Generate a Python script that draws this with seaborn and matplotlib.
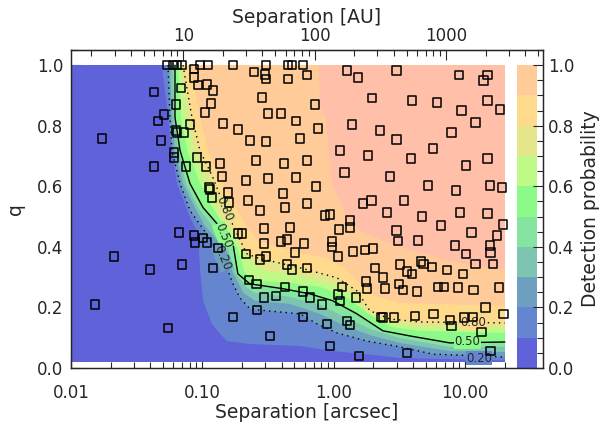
import numpy as np
import matplotlib
matplotlib.use("Agg")
import matplotlib.pyplot as plt
import seaborn as sns
from matplotlib.ticker import FixedLocator, FormatStrFormatter, MultipleLocator, LogLocator, NullFormatter

sns.set_style("ticks")
plt.rcParams['font.family'] = ['DejaVu Sans']

DIST_PC = 140  # arcsec -> AU

# band colours, 0.0-0.1 ... 0.9-1.0, and the full-detection zone
band_colors = ["#5f62d8", "#6585d0", "#6da0c0", "#7dc5b0", "#85e5a0",
               "#8cfa88", "#bffa88", "#e5e58c", "#ffd98c", "#ffcc99"]
full_color = "#ffbfa8"
levels = [0.0, 0.1, 0.2, 0.3, 0.4, 0.5, 0.6, 0.7, 0.8, 0.9, 1.0]

# detection-probability contours: separation [arcsec] vs q
sep_10 = [0.0492, 0.0547, 0.0586, 0.064, 0.0804, 0.0925, 0.0957, 0.101, 0.118, 0.136, 0.1535, 0.23, 0.551, 0.982, 2.36, 3.18, 20.0]
q_10 = [1.0, 0.828, 0.719, 0.609, 0.497, 0.444, 0.331, 0.222, 0.146, 0.113, 0.089, 0.079, 0.073, 0.056, 0.040, 0.033, 0.025]

sep_20 = [0.0547, 0.0566, 0.0586, 0.0675, 0.0804, 0.101, 0.120, 0.1406, 0.1535, 0.1706, 0.1928, 0.2296, 0.309, 0.551, 0.743, 1.054, 1.783, 3.18, 5.66, 12.9, 20.0]
q_20 = [1.0, 0.828, 0.719, 0.609, 0.520, 0.460, 0.411, 0.364, 0.331, 0.278, 0.232, 0.195, 0.189, 0.179, 0.146, 0.116, 0.089, 0.070, 0.046, 0.040, 0.036]

sep_30 = [0.0566, 0.0586, 0.0618, 0.0711, 0.0877, 0.1045, 0.136, 0.172, 0.206, 0.2506, 0.462, 0.783, 1.21, 1.88, 3.18, 7.62, 20.0]
q_30 = [1.0, 0.828, 0.719, 0.609, 0.530, 0.470, 0.411, 0.311, 0.248, 0.222, 0.212, 0.179, 0.139, 0.109, 0.083, 0.056, 0.053]

sep_40 = [0.0597, 0.0608, 0.0652, 0.075, 0.0925, 0.116, 0.152, 0.180, 0.214, 0.2506, 0.462, 0.783, 1.21, 1.88, 3.18, 7.62, 20.0]
q_40 = [1.0, 0.828, 0.719, 0.609, 0.530, 0.474, 0.411, 0.311, 0.268, 0.248, 0.235, 0.209, 0.169, 0.129, 0.099, 0.070, 0.070]

sep_50 = [0.0618, 0.0618, 0.0675, 0.0804, 0.101, 0.129, 0.1706, 0.186, 0.2296, 0.409, 0.656, 0.982, 1.496, 2.36, 3.79, 7.62, 20.0]
q_50 = [1.0, 0.828, 0.719, 0.609, 0.530, 0.477, 0.411, 0.311, 0.278, 0.262, 0.245, 0.222, 0.179, 0.123, 0.106, 0.083, 0.086]

sep_60 = [0.0652, 0.0687, 0.0766, 0.0940, 0.119, 0.152, 0.186, 0.2096, 0.257, 0.462, 0.783, 1.21, 1.80, 2.71, 4.45, 20.0]
q_60 = [1.0, 0.828, 0.719, 0.619, 0.530, 0.460, 0.394, 0.315, 0.288, 0.281, 0.268, 0.238, 0.182, 0.136, 0.123, 0.116]

sep_70 = [0.0687, 0.0766, 0.0860, 0.1064, 0.133, 0.166, 0.203, 0.2436, 0.298, 0.505, 0.933, 1.324, 1.80, 2.60, 4.37, 20.0]
q_70 = [1.0, 0.828, 0.719, 0.619, 0.530, 0.454, 0.387, 0.344, 0.321, 0.308, 0.281, 0.248, 0.182, 0.149, 0.136, 0.132]

sep_80 = [0.0711, 0.0832, 0.0957, 0.120, 0.148, 0.1828, 0.218, 0.2735, 0.326, 0.551, 1.054, 1.496, 1.88, 2.67, 4.51, 20.0]
q_80 = [1.0, 0.828, 0.719, 0.629, 0.530, 0.444, 0.377, 0.361, 0.354, 0.331, 0.298, 0.255, 0.189, 0.162, 0.152, 0.149]

sep_90 = [0.0804, 0.0957, 0.110, 0.1406, 0.1766, 0.222, 0.264, 0.356, 0.551, 0.933, 1.21, 1.578, 2.05, 3.18, 20.0]
q_90 = [1.0, 0.828, 0.719, 0.619, 0.536, 0.460, 0.421, 0.401, 0.381, 0.361, 0.328, 0.281, 0.238, 0.215, 0.205]

sep_100 = [0.769, 0.783, 0.869, 0.900, 0.933, 0.982, 1.11, 1.256, 1.578, 2.67, 4.51, 7.62, 12.9, 20.0]
q_100 = [1.0, 0.868, 0.825, 0.752, 0.669, 0.603, 0.553, 0.503, 0.454, 0.411, 0.381, 0.354, 0.334, 0.328]

# observed binaries
obs_sep = [0.0172, 0.0428, 0.0428, 0.0459, 0.0484, 0.0509, 0.0537, 0.0597, 0.064, 0.0698,
           0.0629, 0.0607, 0.0607, 0.0629, 0.064, 0.0687, 0.075, 0.0663, 0.0723, 0.0804,
           0.0861, 0.0861, 0.0957, 0.110, 0.1706, 0.0925, 0.108, 0.120, 0.116, 0.1045,
           0.143, 0.186, 0.0908, 0.1064, 0.136, 0.1406, 0.112, 0.114, 0.118, 0.156,
           0.159, 0.186, 0.0861, 0.0877, 0.101, 0.108, 0.131, 0.0399, 0.0698, 0.120,
           0.0547, 0.1706, 0.2594, 0.326, 0.581, 0.933, 1.549, 0.226, 0.259, 0.294,
           0.362, 0.424, 0.581, 0.656, 0.811, 1.072, 1.11, 1.324, 1.256, 0.885,
           0.214, 0.2735, 0.304, 0.440, 0.480, 0.624, 1.151, 1.469, 0.1995, 0.294,
           0.294, 0.395, 0.440, 0.505, 0.591, 0.966, 0.966, 1.072, 1.393, 1.72,
           1.98, 2.05, 2.36, 1.75, 1.78, 2.44, 2.28, 2.36, 2.86, 3.35,
           1.66, 1.94, 2.53, 3.01, 3.07, 1.09, 1.324, 1.324, 0.855, 0.933,
           0.462, 0.624, 0.424, 0.2735, 0.222, 10.1, 3.18, 3.59, 3.92, 4.59,
           4.83, 5.56, 7.23, 9.57, 12.0, 16.2, 3.12, 4.28, 6.18, 6.87,
           8.77, 11.6, 18.0, 4.13, 5.75, 7.62, 7.89, 9.75, 11.4, 14.3,
           19.6, 13.3, 15.6, 3.59, 0.0212, 0.0152, 0.304, 0.447, 0.480, 0.581,
           0.2466, 0.2985, 0.304, 0.447, 0.624, 1.256, 1.524, 3.01, 8.93, 14.8,
           13.8, 0.283, 0.315, 0.395, 0.514, 0.718, 0.2296, 0.304, 0.551, 0.756,
           0.2553, 0.417, 0.624, 0.2143, 0.315, 0.514, 0.730, 0.409, 1.946, 3.92,
           6.07, 9.40, 1.371, 2.24, 3.01, 7.89, 12.0, 1.11, 1.816, 3.85,
           5.66, 10.1, 1.21, 2.67, 5.19, 8.47, 3.41, 4.67, 6.51, 9.08,
           11.2, 8.32, 4.36, 14.8, 18.3, 14.8, 15.4, 19.0, 14.8, 19.3,
           17.4, 15.4, 15.6]
obs_q = [0.758, 0.911, 0.666, 0.815, 0.752, 0.838, 1.0, 1.0, 1.0, 1.0,
         0.871, 0.712, 0.695, 0.785, 0.778, 0.924, 0.666, 0.447, 0.778, 0.805,
         0.987, 0.96, 1.0, 1.0, 1.0, 0.934, 0.937, 0.917, 0.874, 0.844,
         0.808, 0.788, 0.695, 0.666, 0.675, 0.632, 0.596, 0.589, 0.563, 0.580,
         0.546, 0.444, 0.437, 0.414, 0.430, 0.414, 0.397, 0.325, 0.341, 0.331,
         0.132, 0.169, 0.192, 0.106, 0.169, 0.073, 0.040, 0.291, 0.278, 0.232,
         0.238, 0.268, 0.252, 0.232, 0.209, 0.242, 0.222, 0.142, 0.156, 0.146,
         0.377, 0.358, 0.368, 0.341, 0.325, 0.331, 0.268, 0.232, 0.444, 0.460,
         0.411, 0.417, 0.424, 0.381, 0.411, 0.417, 0.400, 0.368, 0.384, 0.390,
         0.394, 0.331, 0.298, 0.285, 0.262, 0.262, 0.169, 0.166, 0.166, 0.258,
         0.543, 0.553, 0.513, 0.454, 0.420, 0.457, 0.487, 0.464, 0.503, 0.507,
         0.464, 0.543, 0.530, 0.520, 0.553, 0.377, 0.341, 0.318, 0.311, 0.351,
         0.344, 0.334, 0.324, 0.311, 0.344, 0.344, 0.278, 0.252, 0.268, 0.268,
         0.265, 0.258, 0.265, 0.172, 0.179, 0.159, 0.139, 0.166, 0.169, 0.199,
         0.179, 0.119, 0.056, 0.050, 0.368, 0.209, 1.0, 1.0, 1.0, 1.0,
         0.977, 0.970, 0.954, 0.954, 0.967, 0.983, 0.960, 0.983, 0.967, 0.967,
         0.950, 0.894, 0.841, 0.841, 0.815, 0.871, 0.752, 0.748, 0.758, 0.791,
         0.685, 0.675, 0.685, 0.619, 0.626, 0.629, 0.599, 0.576, 0.891, 0.884,
         0.877, 0.851, 0.805, 0.785, 0.755, 0.778, 0.811, 0.719, 0.702, 0.692,
         0.725, 0.669, 0.646, 0.632, 0.603, 0.586, 0.553, 0.500, 0.470, 0.513,
         0.447, 0.404, 0.421, 0.884, 0.854, 0.692, 0.603, 0.596, 0.510, 0.474,
         0.437, 0.404, 0.381]

fig, ax = plt.subplots(figsize=(6.05, 4.24), dpi=100)
fig.subplots_adjust(left=0.1174, right=0.8975, bottom=0.132, top=0.882)
ax.set_xscale('log')
ax.set_xlim(0.01, 39)
ax.set_ylim(0, 1.05)

# filled probability map, painted from low to high level
ax.fill_between([0.01, 20.0], 0.02, 1.0, color=band_colors[0], lw=0)
curves = [(sep_10, q_10), (sep_20, q_20), (sep_30, q_30), (sep_40, q_40), (sep_50, q_50),
          (sep_60, q_60), (sep_70, q_70), (sep_80, q_80), (sep_90, q_90), (sep_100, q_100)]
fills = band_colors[1:] + [full_color]
for (cs, cq), col in zip(curves, fills):
    ax.fill(list(cs) + [20.0], list(cq) + [1.0], color=col, lw=0)

# contour lines
sns.lineplot(x=sep_20, y=q_20, sort=False, estimator=None, ax=ax, color='k', lw=1.0, ls=(0, (1, 3)))
sns.lineplot(x=sep_50, y=q_50, sort=False, estimator=None, ax=ax, color='k', lw=1.0)
sns.lineplot(x=sep_80, y=q_80, sort=False, estimator=None, ax=ax, color='k', lw=1.0, ls=(0, (1, 3)))

lab_kw = dict(fontsize=8.5, ha='center', va='center')
ax.text(0.148, 0.526, "0.80", rotation=-68, bbox=dict(fc=band_colors[7], ec='none', pad=0.2), **lab_kw)
ax.text(0.143, 0.437, "0.50", rotation=-68, bbox=dict(fc=band_colors[5], ec='none', pad=0.2), **lab_kw)
ax.text(0.1406, 0.364, "0.20", rotation=-68, bbox=dict(fc=band_colors[2], ec='none', pad=0.2), **lab_kw)
ax.text(11.4, 0.149, "0.80", bbox=dict(fc=band_colors[8], ec='none', pad=0.2), **lab_kw)
ax.text(10.4, 0.086, "0.50", bbox=dict(fc=band_colors[5], ec='none', pad=0.2), **lab_kw)
ax.text(12.7, 0.033, "0.20", bbox=dict(fc=band_colors[1], ec='none', pad=0.2), **lab_kw)

# data points
sns.scatterplot(x=obs_sep, y=obs_q, ax=ax, marker='s', s=38, facecolor='none',
                edgecolor='k', linewidth=1.1, zorder=5)

# colour bar drawn inside the frame
for i, col in enumerate(band_colors):
    ax.fill_between([24.7, 35.0], levels[i], levels[i + 1], color=col, lw=0)

# axes formatting
ax.xaxis.set_major_locator(FixedLocator([0.01, 0.1, 1.0, 10.0]))
ax.xaxis.set_major_formatter(FormatStrFormatter('%.2f'))
ax.xaxis.set_minor_locator(LogLocator(base=10, subs=np.arange(2, 10)))
ax.xaxis.set_minor_formatter(NullFormatter())
ax.yaxis.set_major_locator(MultipleLocator(0.2))
ax.yaxis.set_minor_locator(MultipleLocator(0.05))
ax.yaxis.set_major_formatter(FormatStrFormatter('%.1f'))
ax.set_ylim(0, 1.05)
ax.set_xlabel("Separation [arcsec]", fontsize=13.5, labelpad=1)
ax.set_ylabel("q", fontsize=13.5, labelpad=8.5)
ax.tick_params(which='both', direction='in', top=False, right=False, labelsize=12, width=0.8)
ax.tick_params(which='major', length=7)
ax.tick_params(which='minor', length=4)
ax.tick_params(axis='x', pad=11.5)
ax.tick_params(axis='y', pad=5.5)

top = ax.secondary_xaxis('top', functions=(lambda s: s * DIST_PC, lambda a: a / DIST_PC))
top.xaxis.set_major_locator(FixedLocator([10, 100, 1000]))
top.xaxis.set_major_formatter(FormatStrFormatter('%d'))
top.xaxis.set_minor_locator(LogLocator(base=10, subs=np.arange(2, 10)))
top.xaxis.set_minor_formatter(NullFormatter())
top.tick_params(which='both', direction='in', labelsize=12, width=0.8)
top.tick_params(which='major', length=7)
top.tick_params(which='minor', length=4)
top.set_xlabel("Separation [AU]", fontsize=13.5, labelpad=3)

right = ax.twinx()
right.set_ylim(0, 1.05)
right.yaxis.set_major_locator(MultipleLocator(0.2))
right.yaxis.set_minor_locator(MultipleLocator(0.05))
right.yaxis.set_major_formatter(FormatStrFormatter('%.1f'))
right.tick_params(which='both', direction='in', labelsize=12, width=0.8)
right.tick_params(which='major', length=7)
right.tick_params(which='minor', length=4)
right.set_ylabel("Detection probability", fontsize=13.5, labelpad=5)

for a in (ax, right):
    for sp in a.spines.values():
        sp.set_linewidth(0.9)

fig.savefig("out.png", dpi=100)
